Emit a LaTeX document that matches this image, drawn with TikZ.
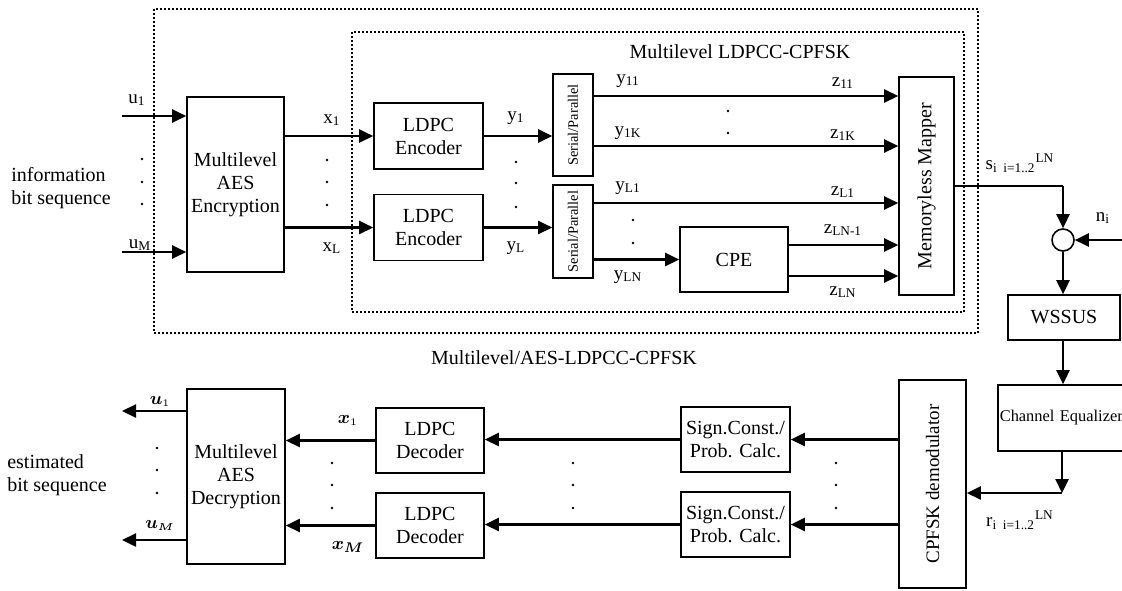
\documentclass[tikz,border=0pt]{standalone}
\usepackage{fontspec}
\setmainfont{Liberation Serif}
\usepackage{amsmath}
\usepackage{bm}
\usepackage{graphicx}
\usetikzlibrary{arrows.meta}

\tikzset{
	blk/.style={draw, line width=0.8pt, align=center, inner sep=1pt, font=\fontsize{10}{11.5}\selectfont},
	sig/.style={line width=1.2pt, -{Triangle[length=7pt,width=6.5pt]}},
	lbl/.style={inner sep=0pt, font=\fontsize{9.5}{11}\selectfont},
	frame/.style={densely dotted, line width=1pt},
}

\begin{document}
\begin{tikzpicture}[x=0.5pt, y=-0.5pt]
	\useasboundingbox (0,0) rectangle (1122,590);
	% dotted frames
	\draw[frame] (154,9) rectangle (978,333);
	\draw[frame] (352,32) rectangle (964,312);
	\node[lbl, font=\fontsize{10}{12}\selectfont] (ttlin) at (740,52) {Multilevel LDPCC-CPFSK};
	\node[lbl, font=\fontsize{10}{12}\selectfont] (ttlout) at (564,358) {Multilevel/AES-LDPCC-CPFSK};

	% transmitter
	\node[blk, minimum width=48.5pt, minimum height=87.5pt] (enc) at (235.5,184.5) {Multilevel\\AES\\Encryption};
	\node[blk, minimum width=54.5pt, minimum height=33pt] (ldpce1) at (428.5,136) {LDPC\\Encoder};
	\node[blk, minimum width=54.5pt, minimum height=33pt] (ldpce2) at (428.5,227.5) {LDPC\\Encoder};
	\node[blk, minimum width=20pt, minimum height=51pt] (sp1) at (573,125) {\rotatebox{90}{\fontsize{7.2}{8}\selectfont Serial/Parallel}};
	\node[blk, minimum width=20pt, minimum height=46.5pt] (sp2) at (573,231.5) {\rotatebox{90}{\fontsize{7.2}{8}\selectfont Serial/Parallel}};
	\node[blk, minimum width=54pt, minimum height=32.5pt] (cpe) at (734,259.5) {CPE};
	\node[blk, minimum width=27.5pt, minimum height=109pt] (mapper) at (926.5,186) {\rotatebox{90}{Memoryless Mapper}};
	\node[draw, circle, line width=0.8pt, minimum size=11pt, inner sep=0pt] (sum) at (1063,240) {};
	\node[blk, minimum width=56pt, minimum height=22.5pt] (wssus) at (1064,317.5) {WSSUS};
	\node[blk, anchor=west, text width=64pt, align=left, minimum height=33pt, font=\fontsize{8.2}{10}\selectfont] (cheq) at (997,418) {\raisebox{2.5pt}{Channel Equalizer}};

	% receiver
	\node[blk, minimum width=33.5pt, minimum height=104pt] (demod) at (932.5,484) {\rotatebox{90}{\fontsize{9.5}{11}\selectfont CPFSK demodulator}};
	\node[blk, minimum width=54.5pt, minimum height=32.5pt] (sc1) at (735.5,439.5) {Sign.Const./\\Prob. Calc.};
	\node[blk, minimum width=54.5pt, minimum height=32.5pt] (sc2) at (735.5,524.5) {Sign.Const./\\Prob. Calc.};
	\node[blk, minimum width=54pt, minimum height=32.5pt] (ldpcd1) at (430,440.5) {LDPC\\Decoder};
	\node[blk, minimum width=54pt, minimum height=32.5pt] (ldpcd2) at (430,525.5) {LDPC\\Decoder};
	\node[blk, minimum width=49pt, minimum height=87.5pt] (dec) at (236,476.5) {Multilevel\\AES\\Decryption};

	% free ends and levels
	\coordinate (uin1) at (122,116);
	\coordinate (uinM) at (122,252);
	\coordinate (l11) at (0,96);
	\coordinate (l1K) at (0,146);
	\coordinate (lL1) at (0,203);
	\coordinate (lLNm) at (0,245);
	\coordinate (lLN) at (0,276);
	\coordinate (nin) at (1122,240);
	\coordinate (rbend) at (1062,493);
	\coordinate (uout1) at (122,411);
	\coordinate (uoutM) at (122,540);

	% transmitter connections
	\draw[sig] (uin1) -- (uin1 -| enc.west);
	\draw[sig] (uinM) -- (uinM -| enc.west);
	\draw[sig] (enc.east |- ldpce1.west) -- (ldpce1.west);
	\draw[sig] (enc.east |- ldpce2.west) -- (ldpce2.west);
	\draw[sig] (ldpce1.east) -- (ldpce1.east -| sp1.west);
	\draw[sig] (ldpce2.east) -- (ldpce2.east -| sp2.west);
	\draw[sig] (sp1.east |- l11) -- (mapper.west |- l11);
	\draw[sig] (sp1.east |- l1K) -- (mapper.west |- l1K);
	\draw[sig] (sp2.east |- lL1) -- (mapper.west |- lL1);
	\draw[sig] (sp2.east |- cpe.west) -- (cpe.west);
	\draw[sig] (cpe.east |- lLNm) -- (mapper.west |- lLNm);
	\draw[sig] (cpe.east |- lLN) -- (mapper.west |- lLN);
	\draw[line width=0.6pt] (mapper.east) -- (sum |- mapper.east);
	\draw[sig] (sum |- mapper.east) -- (sum.north);
	\draw[sig] (nin) -- (sum.east);
	\draw[sig] (sum.south) -- (sum |- wssus.north);
	\draw[sig] (sum |- wssus.south) -- (sum |- cheq.north);
	\draw[sig] (rbend |- cheq.south) -- (rbend);
	\draw[sig] (rbend) -- (rbend -| demod.east);

	% receiver connections
	\draw[sig] (demod.west |- sc1.east) -- (sc1.east);
	\draw[sig] (demod.west |- sc2.east) -- (sc2.east);
	\draw[sig] (sc1.west) -- (sc1.west -| ldpcd1.east);
	\draw[sig] (sc2.west) -- (sc2.west -| ldpcd2.east);
	\draw[sig] (ldpcd1.west) -- (ldpcd1.west -| dec.east);
	\draw[sig] (ldpcd2.west) -- (ldpcd2.west -| dec.east);
	\draw[sig] (dec.west |- uout1) -- (uout1);
	\draw[sig] (dec.west |- uoutM) -- (uoutM);

	% labels
	\node[lbl] (lu1) at (137,100) {u\textsubscript{1}};
	\node[lbl] (luM) at (140,245) {u\textsubscript{M}};
	\node[lbl] (lx1) at (332,120) {x\textsubscript{1}};
	\node[lbl] (lxL) at (332,248) {x\textsubscript{L}};
	\node[lbl] (ly1) at (516,118) {y\textsubscript{1}};
	\node[lbl] (lyL) at (516,248) {y\textsubscript{L}};
	\node[lbl] (ly11) at (628,81) {y\textsubscript{11}};
	\node[lbl] (ly1K) at (628,133) {y\textsubscript{1K}};
	\node[lbl] (lyL1) at (628,188) {y\textsubscript{L1}};
	\node[lbl] (lyLN) at (628,277) {y\textsubscript{LN}};
	\node[lbl] (lz11) at (843,83) {z\textsubscript{11}};
	\node[lbl] (lz1K) at (843,135) {z\textsubscript{1K}};
	\node[lbl] (lzL1) at (843,192) {z\textsubscript{L1}};
	\node[lbl] (lzLNm) at (843,230) {z\textsubscript{LN-1}};
	\node[lbl] (lzLN) at (843,292) {z\textsubscript{LN}};
	\node[lbl] (ls) at (1020,163) {s\textsubscript{i\ \ i=1..2}\textsuperscript{LN}};
	\node[lbl] (ln) at (1103,218) {n\textsubscript{i}};
	\node[lbl] (lr) at (1020,520) {r\textsubscript{i\ \ i=1..2}\textsuperscript{LN}};
	\node[lbl] (lbu1) at (160,401) {$\bm{u}_{\scriptscriptstyle 1}$};
	\node[lbl] (lbuM) at (160,525) {$\bm{u}_{\scriptscriptstyle\bm{M}}$};
	\node[lbl] (lbx1) at (348,420) {$\bm{x}_{\scriptscriptstyle 1}$};
	\node[lbl] (lbxM) at (348,547) {$\bm{x}_{\bm{M}}$};
	\node[lbl, align=left, font=\fontsize{10}{11.5}\selectfont] (info) at (61,188) {information\\bit sequence};
	\node[lbl, align=left, font=\fontsize{10}{11.5}\selectfont] (est) at (57,475) {estimated\\bit sequence};

	% dots
	\foreach \x/\y in {142/159, 142/182, 142/204, 327/160, 327/182, 327/205,
		516/162, 516/183, 516/207, 728/111, 728/133, 633/220, 633/243,
		157/448, 157/470, 157/493, 332/463, 332/485, 332/508,
		573/463, 573/485, 573/508, 836/463, 836/485, 836/508}
		\fill (\x,\y) circle (0.7pt);
\end{tikzpicture}
\end{document}
